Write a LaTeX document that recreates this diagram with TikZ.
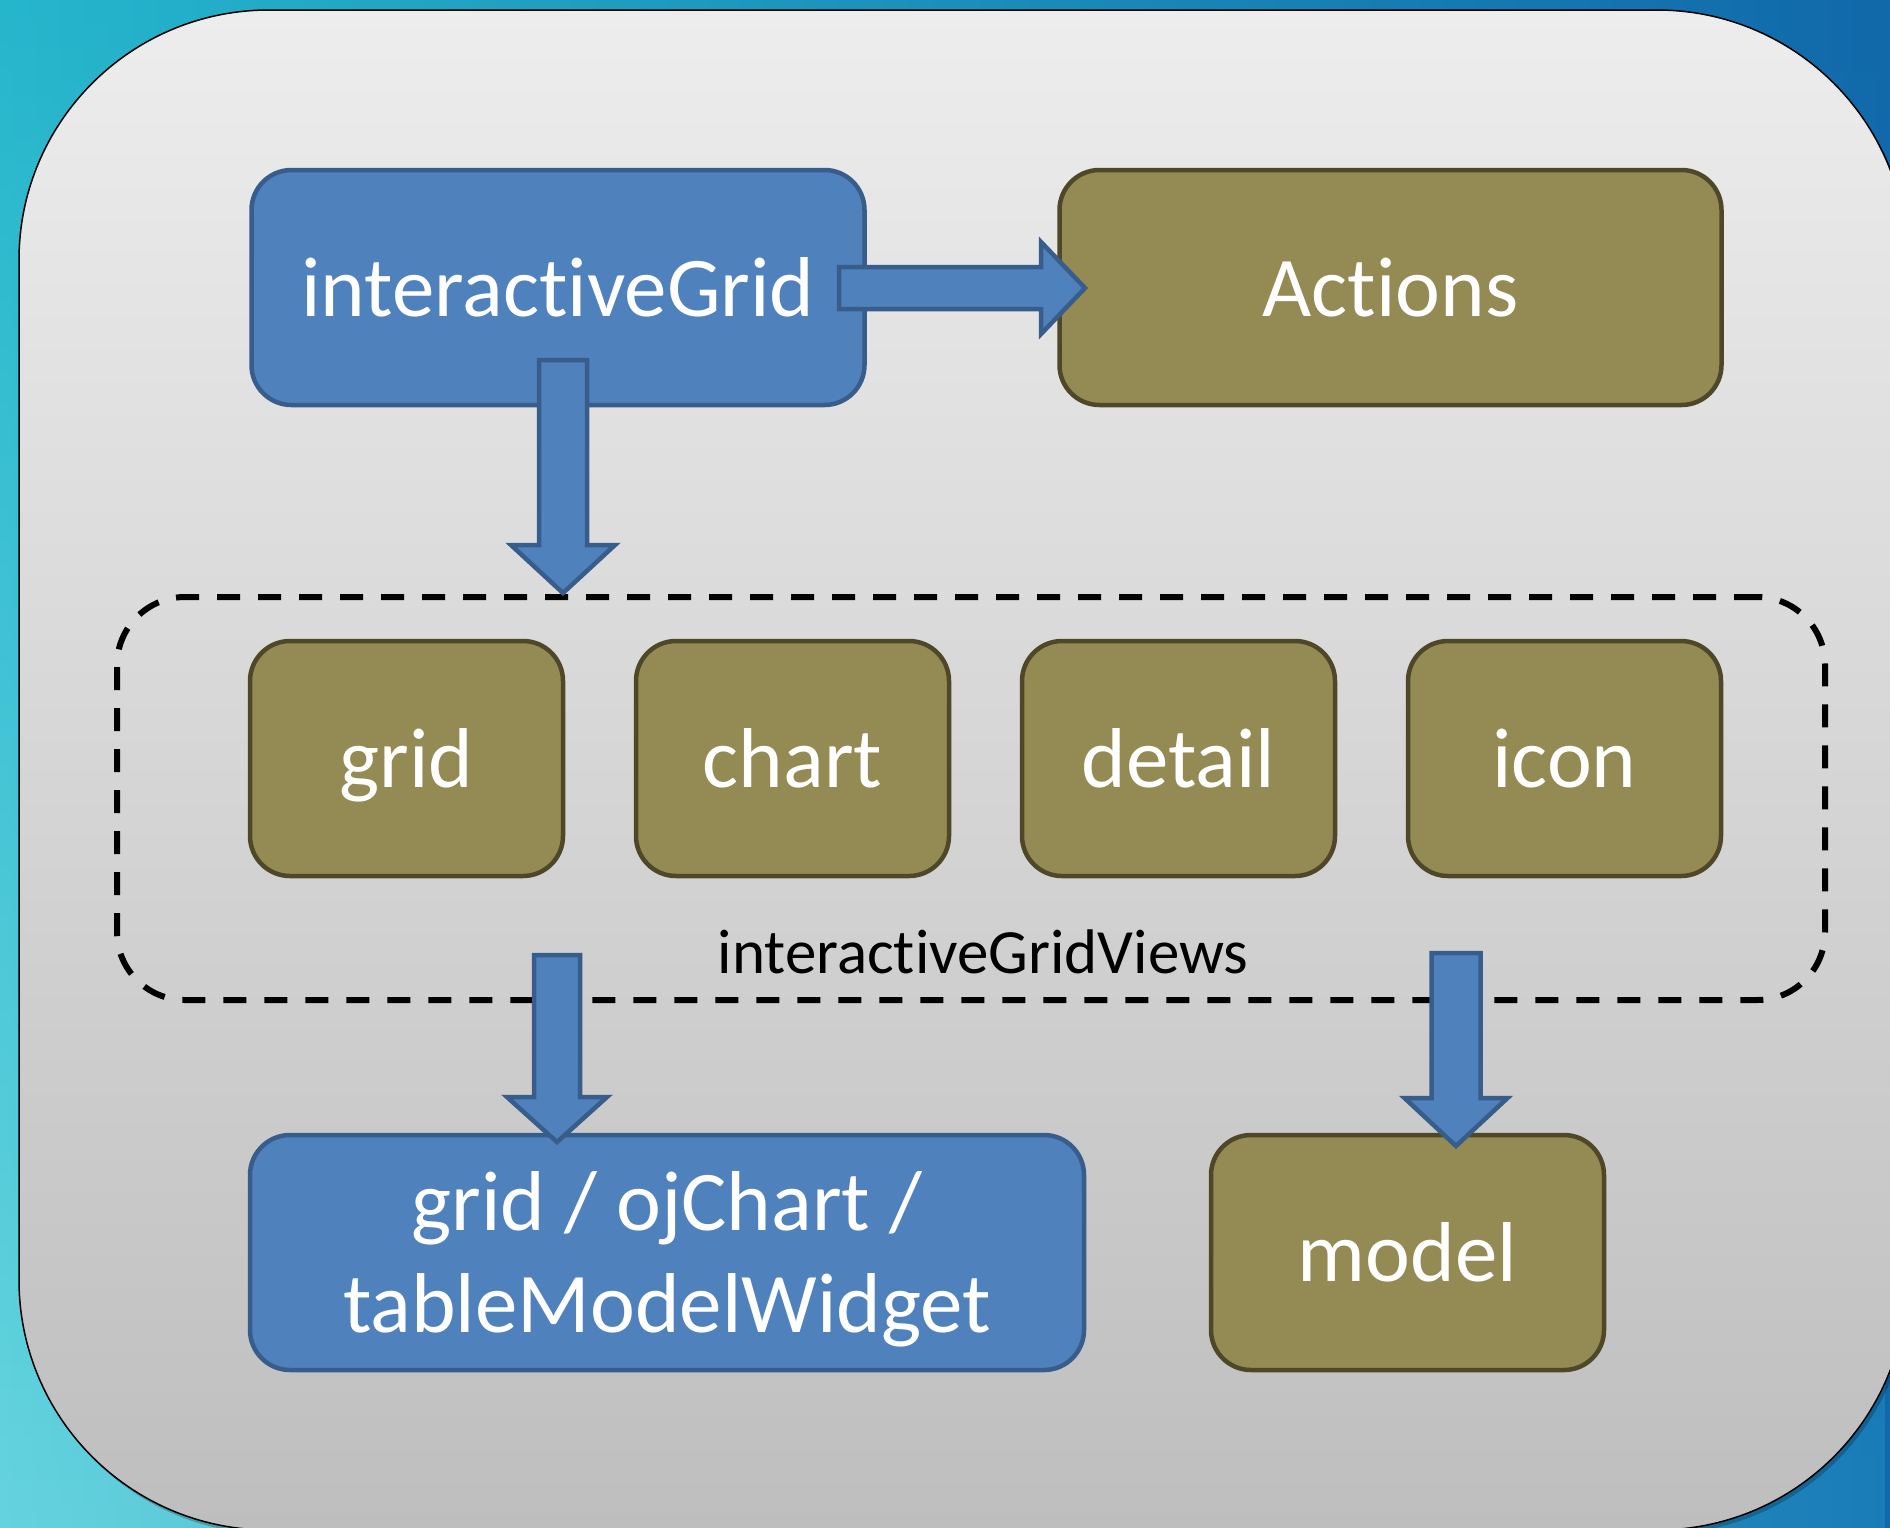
\documentclass[tikz,border=0pt]{standalone}
\usepackage{fontspec}
\setmainfont[Ligatures={NoCommon,NoRare,NoContextual}]{Carlito}
\usetikzlibrary{calc,fadings}
\definecolor{bgtl}{HTML}{25B6CC}
\definecolor{bgtr}{HTML}{1168AA}
\definecolor{bgbl}{HTML}{66D4DF}
\definecolor{bgbr}{HTML}{1A7DB8}
\definecolor{paneltop}{HTML}{EDEDED}
\definecolor{panelbot}{HTML}{BEBEBE}
\definecolor{igblue}{HTML}{4F81BD}
\definecolor{igblueline}{HTML}{385D8A}
\definecolor{olivefill}{HTML}{948A54}
\definecolor{oliveline}{HTML}{4E4829}
\tikzfading[name=fadebottom, top color=transparent!100, bottom color=transparent!0]
\newcommand\blkdown[5]{%
  \draw[blockarrow] ($(#1)+(-#3,0)$) -- ($(#1)+(#3,0)$) -- ($(#2)+(#3,-#5)$) -- ($(#2)+(#4,-#5)$) -- (#2) -- ($(#2)+(-#4,-#5)$) -- ($(#2)+(-#3,-#5)$) -- cycle;}
\newcommand\blkright[5]{%
  \draw[blockarrow] ($(#1)+(0,-#3)$) -- ($(#2)+(-#5,-#3)$) -- ($(#2)+(-#5,-#4)$) -- (#2) -- ($(#2)+(-#5,#4)$) -- ($(#2)+(-#5,#3)$) -- ($(#1)+(0,#3)$) -- cycle;}
\begin{document}
\begin{tikzpicture}[x=1pt,y=-1pt,
  nodebox/.style={rectangle, rounded corners=40pt, line width=4.5pt, inner sep=0pt,
    minimum height=235pt, text height=58pt, text depth=0pt, text=white,
    font=\fontsize{85}{102}\selectfont},
  bluebox/.style={nodebox, fill=igblue, draw=igblueline},
  olivebox/.style={nodebox, fill=olivefill, draw=oliveline},
  whitetext/.style={inner sep=0pt, text=white, font=\fontsize{85}{102}\selectfont},
  blockarrow/.style={fill=igblue, draw=igblueline, line width=4.5pt, line join=miter},
  dashframe/.style={rectangle, draw=black, line width=6pt, dash pattern=on 23pt off 18pt,
    rounded corners=68pt, inner sep=0pt}]
\useasboundingbox (0,0) rectangle (1890,1527);
\clip (0,0) rectangle (1890,1527);
% background
\shade[left color=bgtl, right color=bgtr] (0,0) rectangle (1890,1527);
\shade[left color=bgbl, right color=bgbr, path fading=fadebottom] (0,0) rectangle (1890,1527);
% panel
\fill[black, opacity=0.22, rounded corners=250pt] (22,14) rectangle (1910,1534);
\shadedraw[top color=paneltop, bottom color=panelbot, draw=black, line width=1.5pt, rounded corners=250pt] (19,10) rectangle (1907,1530);
% top row
\node[bluebox, minimum width=613pt] (ig) at (558,287.5) {interactiveGrid};
\node[olivebox, minimum width=662pt] (act) at (1390.5,287.5) {Actions};
% views frame
\node[dashframe, minimum width=1708pt, minimum height=403pt] (ivs) at (971,798.5) {};
\node[olivebox, minimum width=313pt] (vgrid) at (406.5,758.5) {grid};
\node[olivebox, minimum width=313pt] (vchart) at (792.5,758.5) {chart};
\node[olivebox, minimum width=313pt] (vdetail) at (1178.5,758.5) {detail};
\node[olivebox, minimum width=313pt] (vicon) at (1564.5,758.5) {icon};
\node[anchor=base, inner sep=0pt, font=\fontsize{63}{75}\selectfont] (ivslabel) at (983,973) {interactiveGridViews};
% bottom row
\node[bluebox, minimum width=834pt] (out) at (667,1252.5) {};
\node[whitetext, anchor=base] (outl1) at (667,1230) {grid / ojChart /};
\node[whitetext, anchor=base] (outl2) at (667,1332) {tableModelWidget};
\node[olivebox, minimum width=393pt] (model) at (1407.5,1252.5) {model};
% block arrows
\coordinate (a1s) at (839,288);
\coordinate (a1t) at (1085,288);
\blkright{a1s}{a1t}{21}{46}{44}
\coordinate (a2s) at (563,360);
\coordinate (a2t) at (563,593);
\blkdown{a2s}{a2t}{24}{52}{48}
\coordinate (a3s) at (557,955);
\coordinate (a3t) at (557,1142);
\blkdown{a3s}{a3t}{23}{50}{45}
\coordinate (a4s) at (1456,953);
\coordinate (a4t) at (1456,1146);
\blkdown{a4s}{a4t}{24.5}{51.5}{48}
\end{tikzpicture}
\end{document}
